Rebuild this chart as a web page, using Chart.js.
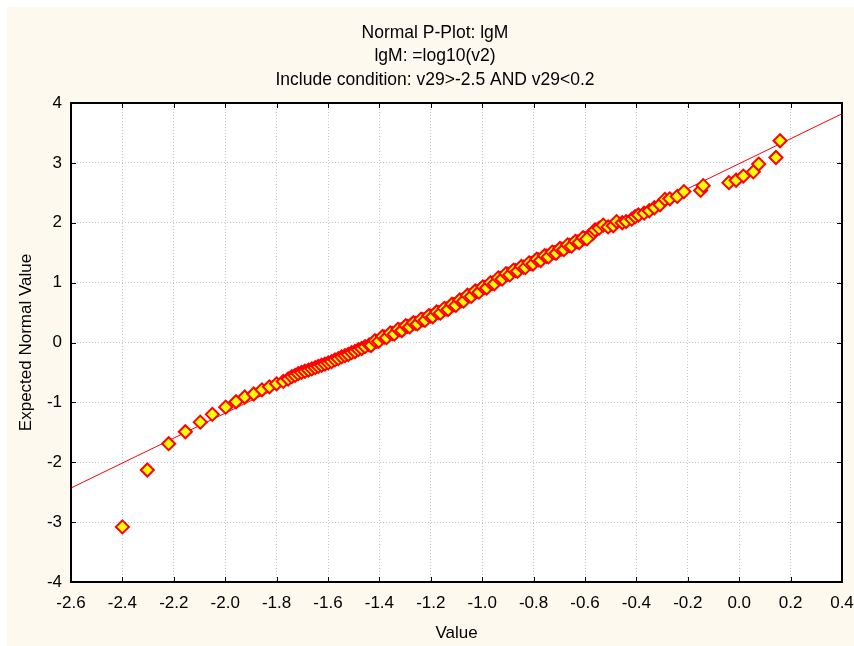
<!DOCTYPE html>
<html>
<head>
<meta charset="utf-8">
<title>Normal P-Plot: lgM</title>
<script src="https://cdn.jsdelivr.net/npm/chart.js@4.4.1/dist/chart.umd.min.js"></script>
<style>
  html, body { margin: 0; padding: 0; background: #ffffff; }
  #wrap { width: 854px; height: 646px; }
</style>
</head>
<body>
<div id="wrap"><canvas id="pplot" width="854" height="646"></canvas></div>
<script>
const titleLines = [
  "Normal P-Plot: lgM",
  "lgM: =log10(v2)",
  "Include condition: v29>-2.5 AND v29<0.2"
];

const xTickValues = [-2.6, -2.4, -2.2, -2.0, -1.8, -1.6, -1.4, -1.2, -1.0, -0.8, -0.6, -0.4, -0.2, 0.0, 0.2, 0.4];
const yTickValues = [-4, -3, -2, -1, 0, 1, 2, 3, 4];

const pointX = [
  -2.400, -2.303, -2.220, -2.155, -2.097, -2.050, -1.998, -1.958, -1.924, -1.889,
  -1.857, -1.828, -1.800, -1.774, -1.755, -1.741, -1.728, -1.716, -1.703, -1.690,
  -1.676, -1.663, -1.650, -1.638, -1.625, -1.612, -1.599, -1.586, -1.573, -1.560,
  -1.547, -1.534, -1.521, -1.508, -1.495, -1.482, -1.469, -1.456, -1.440, -1.425,
  -1.410, -1.395, -1.380, -1.365, -1.350, -1.335, -1.320, -1.305, -1.290, -1.275,
  -1.260, -1.245, -1.230, -1.215, -1.200, -1.185, -1.170, -1.155, -1.140, -1.125,
  -1.110, -1.095, -1.080, -1.065, -1.050, -1.035, -1.020, -1.005, -0.990, -0.975,
  -0.960, -0.945, -0.930, -0.915, -0.900, -0.885, -0.870, -0.855, -0.840, -0.825,
  -0.810, -0.795, -0.780, -0.765, -0.750, -0.735, -0.720, -0.705, -0.690, -0.675,
  -0.660, -0.645, -0.630, -0.615, -0.600, -0.585, -0.570, -0.561, -0.545, -0.529,
  -0.510, -0.490, -0.477, -0.455, -0.440, -0.418, -0.405, -0.392, -0.370, -0.350,
  -0.330, -0.308, -0.289, -0.270, -0.241, -0.215, -0.150, -0.140, -0.040, -0.012,
  0.016, 0.055, 0.076, 0.143, 0.159
];

// expected normal values
const pointY = [
  -3.08, -2.13, -1.69, -1.49, -1.33, -1.20, -1.08, -0.99, -0.91, -0.86,
  -0.79, -0.74, -0.69, -0.65, -0.61, -0.57, -0.55, -0.52, -0.50, -0.48,
  -0.46, -0.44, -0.42, -0.40, -0.38, -0.36, -0.34, -0.32, -0.29, -0.27,
  -0.24, -0.22, -0.20, -0.17, -0.15, -0.12, -0.10, -0.07, -0.04, -0.01,
  0.02, 0.06, 0.09, 0.12, 0.15, 0.18, 0.21, 0.24, 0.27, 0.30,
  0.32, 0.35, 0.38, 0.41, 0.44, 0.47, 0.50, 0.53, 0.56, 0.60,
  0.63, 0.67, 0.70, 0.74, 0.78, 0.81, 0.85, 0.89, 0.92, 0.96,
  0.99, 1.03, 1.07, 1.10, 1.14, 1.17, 1.20, 1.23, 1.26, 1.29,
  1.32, 1.36, 1.38, 1.41, 1.44, 1.47, 1.50, 1.53, 1.56, 1.59,
  1.62, 1.65, 1.68, 1.71, 1.74, 1.78, 1.82, 1.88, 1.91, 1.96,
  1.93, 1.95, 2.02, 2.00, 2.02, 2.06, 2.10, 2.13, 2.16, 2.20,
  2.25, 2.30, 2.39, 2.40, 2.44, 2.52, 2.54, 2.62, 2.67, 2.71,
  2.78, 2.85, 2.98, 3.09, 3.37
];

// second row of overlapping points inside the dense middle band
const bandX = [
  -1.4325, -1.4175, -1.4025, -1.3875, -1.3725, -1.3575, -1.3425, -1.3275, -1.3125, -1.2975,
  -1.2825, -1.2675, -1.2525, -1.2375, -1.2225, -1.2075, -1.1925, -1.1775, -1.1625, -1.1475,
  -1.1325, -1.1175, -1.1025, -1.0875, -1.0725, -1.0575, -1.0425, -1.0275, -1.0125, -0.9975,
  -0.9825, -0.9675, -0.9525, -0.9375, -0.9225, -0.9075, -0.8925, -0.8775, -0.8625, -0.8475,
  -0.8325, -0.8175, -0.8025, -0.7875, -0.7725, -0.7575, -0.7425, -0.7275, -0.7125, -0.6975,
  -0.6825, -0.6675, -0.6525, -0.6375, -0.6225, -0.6075, -0.5925
];
const bandY = [
  -0.05, 0.03, 0.02, 0.10, 0.08, 0.16, 0.14, 0.22, 0.20, 0.28,
  0.26, 0.33, 0.31, 0.39, 0.37, 0.45, 0.43, 0.51, 0.49, 0.57,
  0.55, 0.64, 0.62, 0.71, 0.69, 0.79, 0.77, 0.86, 0.84, 0.93,
  0.91, 1.00, 0.98, 1.08, 1.06, 1.15, 1.13, 1.21, 1.19, 1.27,
  1.25, 1.33, 1.31, 1.39, 1.37, 1.45, 1.43, 1.51, 1.49, 1.57,
  1.55, 1.63, 1.61, 1.69, 1.67, 1.75, 1.73
];

// fitted reference line end points
const fitX = [-2.6, 0.4];
const fitY = [-2.43, 3.82];

const fontFamily = "'Liberation Sans', Arial, sans-serif";

const framePlugin = {
  id: "frame",
  afterLayout(chart) {
    // title is centred a little right of the canvas centre
    if (chart.titleBlock) {
      chart.titleBlock.left += 28;
    }
  },
  beforeDraw(chart) {
    const { ctx, chartArea: a, width, height } = chart;
    ctx.save();
    ctx.fillStyle = "#ffffff";
    ctx.fillRect(0, 0, width, height);
    ctx.fillStyle = "#fdf9ee";
    ctx.fillRect(7, 7, width - 7, height - 7);
    ctx.fillStyle = "#ffffff";
    ctx.fillRect(a.left, a.top, a.right - a.left, a.bottom - a.top);
    ctx.restore();
  },
  afterDraw(chart) {
    const { ctx, chartArea: a, scales } = chart;
    ctx.save();
    ctx.strokeStyle = "#000000";
    ctx.lineWidth = 1;
    ctx.beginPath();
    xTickValues.forEach(v => {
      const px = Math.round(scales.x.getPixelForValue(v)) + 0.5;
      ctx.moveTo(px, a.top);
      ctx.lineTo(px, a.top + 5);
      ctx.moveTo(px, a.bottom);
      ctx.lineTo(px, a.bottom - 5);
    });
    yTickValues.forEach(v => {
      const py = Math.round(scales.y.getPixelForValue(v)) + 0.5;
      ctx.moveTo(a.left, py);
      ctx.lineTo(a.left + 5, py);
      ctx.moveTo(a.right, py);
      ctx.lineTo(a.right - 5, py);
    });
    ctx.stroke();
    ctx.lineWidth = 2;
    ctx.strokeRect(a.left, a.top, a.right - a.left, a.bottom - a.top);
    ctx.restore();
  }
};

function formatX(value) {
  if (Math.abs(value) < 1e-9) return "0.0";
  return Number(value).toFixed(1);
}

const allX = pointX.concat(bandX);
const allY = pointY.concat(bandY);

const ctx = document.getElementById("pplot");

new Chart(ctx, {
  type: "scatter",
  data: {
    datasets: [
      {
        label: "lgM",
        data: allX.map((x, i) => ({ x: x, y: allY[i] })),
        pointStyle: "rectRot",
        pointRadius: 6.5,
        pointBackgroundColor: "#ffff00",
        pointBorderColor: "#ff0000",
        pointBorderWidth: 2,
        showLine: false
      },
      {
        label: "fit",
        data: fitX.map((x, i) => ({ x: x, y: fitY[i] })),
        showLine: true,
        borderColor: "#ff0000",
        borderWidth: 1,
        pointRadius: 0,
        fill: false,
        tension: 0
      }
    ]
  },
  options: {
    responsive: false,
    animation: false,
    devicePixelRatio: 1,
    layout: { padding: { left: 0, right: 12, top: 0, bottom: 0 } },
    plugins: {
      legend: { display: false },
      tooltip: { enabled: false },
      title: {
        display: true,
        text: titleLines,
        color: "#000000",
        font: { family: fontFamily, size: 17.5, weight: "normal", lineHeight: "23.5px" },
        padding: { top: 21, bottom: 11.5 }
      }
    },
    scales: {
      x: {
        type: "linear",
        min: -2.6,
        max: 0.4,
        afterBuildTicks: scale => {
          scale.ticks = xTickValues.map(v => ({ value: v }));
        },
        afterFit: scale => {
          scale.height = 64;
          scale.paddingLeft = 0;
          scale.paddingRight = 0;
        },
        grid: { color: "#c8c8c8", lineWidth: 1, drawTicks: false },
        border: { display: false, dash: [1, 2] },
        ticks: {
          color: "#000000",
          font: { family: fontFamily, size: 17 },
          padding: 11,
          maxRotation: 0,
          autoSkip: false,
          callback: value => formatX(value)
        },
        title: {
          display: true,
          text: "Value",
          color: "#000000",
          font: { family: fontFamily, size: 17 },
          padding: { top: 0, bottom: 2 }
        }
      },
      y: {
        type: "linear",
        min: -4,
        max: 4,
        afterBuildTicks: scale => {
          scale.ticks = yTickValues.map(v => ({ value: v }));
        },
        afterFit: scale => {
          scale.width = 71;
          scale.paddingTop = 0;
          scale.paddingBottom = 0;
        },
        grid: { color: "#c8c8c8", lineWidth: 1, drawTicks: false },
        border: { display: false, dash: [1, 2] },
        ticks: {
          color: "#000000",
          font: { family: fontFamily, size: 17 },
          padding: 9,
          autoSkip: false,
          callback: value => String(value)
        },
        title: {
          display: true,
          text: "Expected Normal Value",
          color: "#000000",
          font: { family: fontFamily, size: 17 },
          padding: { top: 16, bottom: 0 }
        }
      }
    }
  },
  plugins: [framePlugin]
});
</script>
</body>
</html>
